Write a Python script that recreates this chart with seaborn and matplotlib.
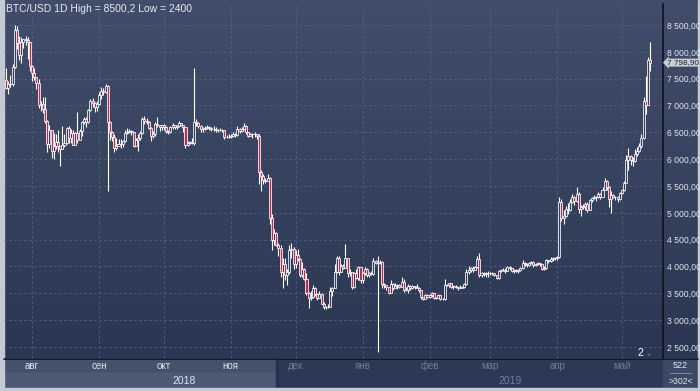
import matplotlib
matplotlib.use("Agg")
import numpy as np
import pandas as pd
import matplotlib.pyplot as plt
import matplotlib.dates as mdates
import matplotlib.transforms as mtransforms
from matplotlib.colors import LinearSegmentedColormap
from matplotlib.patches import Rectangle
from matplotlib.lines import Line2D
from matplotlib.ticker import FuncFormatter
import seaborn as sns

# ---- data (daily BTC/USD candles, 2018-07-20 .. 2019-05-14) ----
start_date = "2018-07-20"
first_open = 7470

closes = [
    7330, 7400, 7400, 7720, 8400, 8170, 7940, 8190, 8230, 8220, 8180, 7730,  # jul
    7600, 7540, 7420, 7010, 7030, 6940, 6720, 6280, 6540, 6150, 6240, 6320, 6250, 6190, 6270, 6310,
    6580, 6390, 6490, 6270, 6480, 6360, 6530, 6690, 6740, 6700, 6910, 7080, 7040, 6980, 7030,  # aug
    7190, 7270, 7260, 7370, 6700, 6510, 6410, 6200, 6250, 6290, 6280, 6330, 6490, 6500, 6530,
    6500, 6250, 6360, 6390, 6480, 6740, 6710, 6700, 6580, 6430, 6460, 6660, 6640, 6600, 6630,  # sep
    6590, 6530, 6510, 6590, 6640, 6600, 6620, 6670, 6640, 6600, 6270, 6310, 6320, 6300, 6700, 6680,
    6620, 6560, 6560, 6580, 6600, 6580, 6560, 6570, 6540, 6540, 6550, 6540, 6420, 6420, 6420,  # oct
    6440, 6470, 6450, 6560, 6520, 6560, 6620, 6500, 6440, 6460, 6470, 6460, 6430, 5760, 5680,
    5620, 5600, 5650, 4900, 4500, 4620, 4400, 4350, 3900, 4050, 3850, 3900, 4300, 4320, 4050,  # nov
    4210, 4140, 3850, 3950, 3760, 3510, 3420, 3430, 3590, 3480, 3420, 3490, 3310, 3240, 3240, 3250,
    3550, 3590, 3890, 4150, 3900, 4010, 3980, 4150, 3880, 3890, 3620, 3870, 3790, 3990, 3740,  # dec
    3880, 3960, 3840, 3880, 3860, 4100, 4060, 4080, 4090, 3680, 3650, 3610, 3510, 3680, 3590, 3630,
    3660, 3610, 3720, 3560, 3570, 3640, 3590, 3630, 3610, 3600, 3560, 3430, 3400, 3460, 3430,  # jan
    3460, 3500, 3410, 3420, 3460, 3400, 3390, 3660, 3660, 3690, 3610, 3630, 3610, 3590,
    3600, 3620, 3670, 3900, 3930, 3970, 3940, 3990, 4140, 3850, 3880, 3860, 3870, 3880,  # feb
    3880, 3870, 3840, 3780, 3920, 3930, 3940, 3920, 3990, 3970, 3920, 3940, 3920, 3930, 3970, 4060,
    4040, 4030, 4060, 4090, 4030, 4050, 4060, 4040, 3960, 3970, 4120, 4110, 4140, 4150, 4150,  # mar
    4170, 5200, 4900, 4950, 5080, 5050, 5200, 5300, 5220, 5350, 5080, 5100, 5120, 5170, 5060,
    5230, 5280, 5300, 5290, 5350, 5300, 5430, 5600, 5480, 5250, 5330, 5300, 5290, 5250, 5370,  # apr
    5420, 5560, 5980, 6050, 5990, 5960, 6100, 6150, 6240, 6400, 7080, 7000, 7850, 7798.9,  # may
]

highs = [
    7690, 7450, 7570, 7770, 8500, 8480, 8300, 8270, 8240, 8290, 8270, 8180,
    7760, 7700, 7540, 7490, 7080, 7150, 7150, 6730, 6630, 6550, 6480, 6470, 6550, 6250, 6620, 6470,
    6600, 6620, 6570, 6540, 6500, 6880, 6570, 6710, 6780, 6780, 6930, 7120, 7140, 7060, 7090,
    7260, 7340, 7330, 7400, 7390, 6720, 6530, 6470, 6400, 6370, 6380, 6350, 6540, 6580, 6560,
    6540, 6500, 6400, 6470, 6530, 6780, 6800, 6770, 6710, 6590, 6530, 6700, 6780, 6640, 6640,
    6660, 6610, 6550, 6620, 6680, 6640, 6640, 6710, 6670, 6640, 6600, 6330, 6340, 6400, 7700, 6740,
    6700, 6640, 6600, 6610, 6640, 6620, 6600, 6610, 6590, 6570, 6580, 6570, 6550, 6450, 6460,
    6470, 6500, 6480, 6620, 6580, 6600, 6680, 6630, 6510, 6480, 6490, 6510, 6470, 6470, 5800,
    5720, 5640, 5720, 5660, 4970, 4700, 4650, 4430, 4400, 4150, 4150, 3950, 4400, 4430, 4370,
    4300, 4320, 4150, 4080, 3970, 3880, 3530, 3550, 3660, 3620, 3510, 3540, 3500, 3340, 3270, 3300,
    3620, 3620, 4050, 4200, 4200, 4050, 4050, 4420, 4150, 3960, 3900, 3900, 3950, 4000, 3990,
    3900, 3990, 3970, 3900, 3920, 4160, 4120, 4200, 4130, 4100, 3700, 3660, 3620, 3740, 3700, 3690,
    3680, 3680, 3800, 3760, 3610, 3670, 3650, 3650, 3640, 3680, 3620, 3560, 3440, 3490, 3480,
    3480, 3520, 3500, 3440, 3480, 3470, 3420, 3760, 3680, 3700, 3690, 3660, 3660, 3620,
    3650, 3640, 3690, 3950, 4000, 3990, 4000, 4010, 4200, 4260, 3900, 3890, 3890, 3920,
    3900, 3900, 3880, 3850, 3940, 3960, 3970, 3980, 4010, 4000, 3980, 3960, 3950, 3960, 3990, 4130,
    4080, 4070, 4090, 4110, 4100, 4070, 4080, 4070, 4050, 4000, 4140, 4130, 4180, 4170, 4170,
    4190, 5300, 5260, 5050, 5120, 5180, 5250, 5350, 5310, 5490, 5380, 5150, 5160, 5200, 5210,
    5260, 5300, 5340, 5320, 5380, 5370, 5490, 5640, 5620, 5500, 5400, 5350, 5320, 5310, 5390,
    5450, 5600, 6080, 6200, 6080, 6040, 6190, 6220, 6300, 6470, 7150, 7550, 7900, 8180,
]

lows = [
    7300, 7220, 7350, 7370, 7700, 8050, 7850, 7800, 8080, 8130, 7870, 7650,
    7460, 7480, 7300, 6960, 6890, 6860, 6680, 6140, 6200, 6020, 6000, 6180, 6130, 5880, 6180, 6230,
    6290, 6300, 6300, 6260, 6270, 6300, 6350, 6430, 6660, 6600, 6680, 6890, 6970, 6880, 6900,
    7010, 7130, 7200, 7240, 5400, 6350, 6330, 6130, 6170, 6240, 6200, 6220, 6320, 6460, 6480,
    6450, 6220, 6240, 6150, 6360, 6470, 6650, 6660, 6560, 6340, 6400, 6440, 6600, 6520, 6540,
    6550, 6490, 6460, 6490, 6560, 6570, 6560, 6600, 6610, 6500, 6210, 6240, 6290, 6280, 6260, 6620,
    6580, 6500, 6500, 6540, 6560, 6540, 6520, 6530, 6500, 6510, 6520, 6510, 6380, 6390, 6390,
    6400, 6430, 6420, 6430, 6480, 6500, 6550, 6470, 6410, 6430, 6400, 6420, 6380, 5540, 5400,
    5530, 5560, 5590, 4800, 4300, 4400, 4380, 4200, 3800, 3600, 3750, 3650, 3860, 4150, 3950,
    3980, 4100, 3800, 3800, 3750, 3460, 3230, 3370, 3410, 3450, 3380, 3410, 3300, 3200, 3210, 3230,
    3240, 3450, 3600, 3880, 3850, 3900, 3950, 3980, 3800, 3820, 3580, 3600, 3770, 3750, 3700,
    3700, 3840, 3810, 3800, 3850, 3840, 4040, 2400, 4040, 3600, 3600, 3570, 3490, 3500, 3570, 3590,
    3580, 3590, 3610, 3520, 3540, 3500, 3570, 3580, 3580, 3590, 3520, 3400, 3380, 3390, 3420,
    3420, 3440, 3390, 3400, 3420, 3370, 3380, 3380, 3630, 3620, 3600, 3580, 3590, 3570,
    3590, 3600, 3600, 3660, 3860, 3890, 3900, 3930, 3980, 3800, 3800, 3820, 3800, 3810,
    3850, 3840, 3820, 3760, 3770, 3890, 3910, 3880, 3910, 3930, 3890, 3880, 3900, 3880, 3920, 3960,
    4000, 3990, 4010, 4040, 3990, 4010, 4030, 4010, 3930, 3940, 3960, 4070, 4090, 4110, 4130,
    4130, 4160, 4850, 4800, 4930, 4980, 5040, 5180, 5150, 5200, 5000, 4950, 5080, 5060, 5020,
    5050, 5210, 5260, 5220, 5280, 5260, 5290, 5420, 5420, 5100, 5000, 5270, 5230, 5200, 5240,
    5350, 5400, 5550, 5800, 5900, 5880, 5950, 6050, 6130, 6200, 6380, 6850, 7000, 7650,
]

month_names = ["авг", "сен", "окт", "ноя", "дек", "янв", "фев", "мар", "апр", "май"]
month_starts = ["2018-08-01", "2018-09-01", "2018-10-01", "2018-11-01", "2018-12-01",
                "2019-01-01", "2019-02-01", "2019-03-01", "2019-04-01", "2019-05-01"]
price_ticks = [2500, 3000, 3500, 4000, 4500, 5000, 5500, 6000, 6500, 7000, 7500, 8000, 8500]
last_price = 7798.9

df = pd.DataFrame({"date": pd.date_range(start_date, periods=len(closes), freq="D"),
                   "close": closes, "high": highs, "low": lows})
df["open"] = df["close"].shift(1).fillna(first_open)
df["high"] = df[["high", "open", "close"]].max(axis=1)
df["low"] = df[["low", "open", "close"]].min(axis=1)
df["x"] = mdates.date2num(df["date"])


def fmt_price(v):
    return f"{v:,.2f}".replace(",", " ").replace(".", ",")


# ---- style ----
sns.set_theme(style="dark")
plt.rcParams["font.family"] = ["Liberation Sans", "DejaVu Sans"]

W, H = 700, 391
fig = plt.figure(figsize=(7, 3.91), dpi=100)


def fx(px):
    return px / W


def fy(py):
    return 1 - py / H


# gradient background
bg = fig.add_axes([0, 0, 1, 1], zorder=0)
grad = np.linspace(0, 1, 256).reshape(-1, 1)
cmap = LinearSegmentedColormap.from_list("bg", ["#414d6a", "#2b3752"])
bg.imshow(grad, aspect="auto", cmap=cmap, extent=[0, 1, fy(358), 1])
bg.set_xlim(0, 1)
bg.set_ylim(0, 1)
bg.axis("off")

# bottom strip (time scale)
strip = [
    (4, 359, 273, 14, "#43516b"),
    (4, 373, 273, 15, "#4c5a76"),
    (277, 359, 386, 29, "#2d3954"),
    (663, 359, 37, 29, "#3c4965"),
]
for x0, y0, w, h, c in strip:
    fig.patches.append(Rectangle((fx(x0), fy(y0 + h)), w / W, h / H,
                                 transform=fig.transFigure, color=c, zorder=0.5))
fig.patches.append(Rectangle((fx(276), fy(388)), 1.5 / W, 29 / H,
                             transform=fig.transFigure, color="#26314a", zorder=0.6))
# outer light frame
for x0, y0, w, h in [(0, 0, 4, 391), (0, 388, 700, 3), (698, 0, 2, 391)]:
    fig.patches.append(Rectangle((fx(x0), fy(y0 + h)), w / W, h / H,
                                 transform=fig.transFigure, color="#c3cad4", zorder=1.5))
fig.lines.append(Line2D([fx(4), fx(698)], [fy(358.5), fy(358.5)], transform=fig.transFigure,
                        color="#0d1220", lw=1.2, zorder=6))

# ---- main candle axes ----
ax = fig.add_axes([fx(4), fy(358), (663 - 4) / W, 354 / H], zorder=2)
ax.patch.set_alpha(0)
ax.set_xlim(mdates.date2num(pd.Timestamp("2018-07-19")), mdates.date2num(pd.Timestamp("2019-05-20")))
ax.set_ylim(2295, 8891)

ms = mdates.date2num(pd.to_datetime(month_starts))
ax.set_xticks(ms)
ax.set_yticks(price_ticks)
ax.grid(True, color="#5a6785", lw=0.6, linestyle=(0, (2.5, 3.5)))
ax.tick_params(axis="x", length=0, labelbottom=False)
ax.yaxis.tick_right()
ax.tick_params(axis="y", length=0, pad=3, labelsize=6.2, labelcolor="#e2e7ef")
ax.yaxis.set_major_formatter(FuncFormatter(lambda v, p: fmt_price(v)))
for s in ["top", "left", "bottom"]:
    ax.spines[s].set_visible(False)
ax.spines["right"].set_color("#0d1220")
ax.spines["right"].set_linewidth(1.2)

up = df["close"] >= df["open"]
ax.vlines(df["x"], df["low"], df["high"], color="white", lw=0.8, zorder=2)
body_lo = df[["open", "close"]].min(axis=1)
body_h = (df["close"] - df["open"]).abs()
ax.bar(df["x"], body_h, bottom=body_lo, width=0.95,
       color=np.where(up, "#34405c", "#c42a52"), edgecolor="white", linewidth=0.55, zorder=3)

# last price marker
tr = mtransforms.blended_transform_factory(ax.transAxes, ax.transData)
ax.text(1.006, last_price, fmt_price(last_price),
        transform=tr, va="center", ha="left", fontsize=5.9, color="#1c1f26", zorder=10,
        bbox=dict(boxstyle="larrow,pad=0.06", fc="#c9ced6", ec="none"), clip_on=False)

# month / year labels
trx = mtransforms.blended_transform_factory(ax.transData, fig.transFigure)
for i, (name, m) in enumerate(zip(month_names, ms)):
    col = "#dde3ec" if i < 4 else "#6f7c94"
    ax.text(m, fy(366), name, transform=trx, ha="center", va="center",
            fontsize=7, color=col, clip_on=False, zorder=7)
fig.text(fx(184), fy(380.5), "2018", ha="center", va="center", fontsize=7.5, color="#dde3ec", zorder=7)
fig.text(fx(510), fy(380.5), "2019", ha="center", va="center", fontsize=7.5, color="#6f7c94", zorder=7)

# corner box
fig.text(fx(680.5), fy(366), "522", ha="center", va="center", fontsize=6.5, color="#e2e7ef", zorder=7)
fig.lines.append(Line2D([fx(670), fx(691)], [fy(373), fy(373)], transform=fig.transFigure,
                        color="#8a96aa", lw=0.6, zorder=7))
fig.text(fx(680.5), fy(381), ">302<", ha="center", va="center", fontsize=6.3, color="#e2e7ef", zorder=7)

# page marker
fig.text(fx(640), fy(353), "2", ha="center", va="center", fontsize=7.5, color="white", zorder=7)
fig.text(fx(649), fy(354), "▲", ha="center", va="center", fontsize=4.5, color="#56627c", zorder=7)

# title
fig.text(fx(6), fy(9), "BTC/USD 1D High = 8500,2 Low = 2400", ha="left", va="center",
         fontsize=7.5, color="#e6eaf1", zorder=7)

fig.savefig("out.png", dpi=100)
